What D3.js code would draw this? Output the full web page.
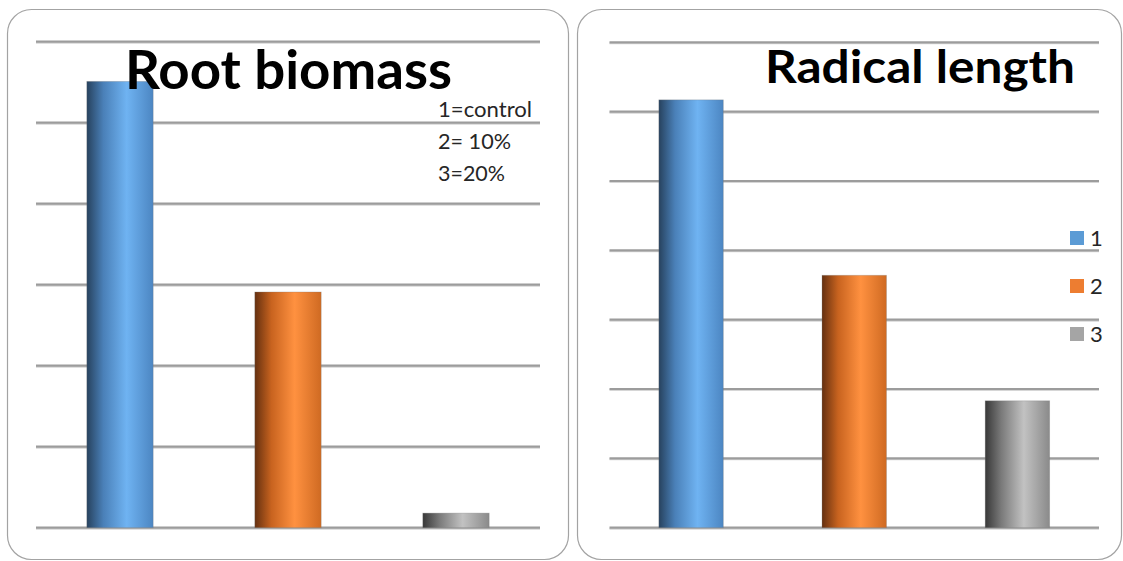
<!DOCTYPE html>
<html><head><meta charset="utf-8">
<script src="https://cdn.jsdelivr.net/npm/d3@7"></script>
<style>html,body{margin:0;padding:0;background:#fff;}svg{display:block;}</style>
</head><body>
<svg id="chart" width="1123" height="561"></svg>
<script>
// ---- data ----
const categories = ["1", "2", "3"];
const rootBiomass = [5.51, 2.91, 0.18];
const radicalLength = [6.17, 3.64, 1.83];
const rootTicks = [0, 1, 2, 3, 4, 5, 6];
const radicalTicks = [0, 1, 2, 3, 4, 5, 6, 7];
const rootNotes = ["1=control", "2= 10%", "3=20%"];
const legendLabels = ["1", "2", "3"];
const titles = ["Root biomass", "Radical length"];

const svg = d3.select("#chart");
const defs = svg.append("defs");
const grads = [
  {id: "gBlue", stops: [["0%", "#27425e"], ["25%", "#4a80b8"], ["60%", "#6fb3f2"], ["100%", "#4c86c2"]]},
  {id: "gOrange", stops: [["0%", "#653010"], ["25%", "#c8631f"], ["60%", "#ff9140"], ["100%", "#cf6a22"]]},
  {id: "gGray", stops: [["0%", "#383838"], ["25%", "#7a7a7a"], ["60%", "#c2c2c2"], ["100%", "#8a8a8a"]]}
];
grads.forEach(g => {
  const lg = defs.append("linearGradient").attr("id", g.id).attr("x1", "0").attr("x2", "1").attr("y1", "0").attr("y2", "0");
  g.stops.forEach(s => lg.append("stop").attr("offset", s[0]).attr("stop-color", s[1]));
});
const legendColors = ["#5b9bd5", "#ed7d31", "#a5a5a5"];
const fills = ["url(#gBlue)", "url(#gOrange)", "url(#gGray)"];

// panels
svg.append("rect").attr("x", 7.5).attr("y", 9.5).attr("width", 561).attr("height", 550)
  .attr("rx", 24).attr("fill", "#fff").attr("stroke", "#a3a3a3").attr("stroke-width", 1.2);
svg.append("rect").attr("x", 577.5).attr("y", 9.5).attr("width", 544).attr("height", 550)
  .attr("rx", 24).attr("fill", "#fff").attr("stroke", "#a3a3a3").attr("stroke-width", 1.2);

function panel(cfg) {
  const g = svg.append("g");
  const y = d3.scaleLinear().domain([0, d3.max(cfg.ticks)]).range([527.7, cfg.top]);
  const x = d3.scaleBand().domain(categories).range([cfg.x0, cfg.x1]).padding(0);
  const bw = x.step() * 0.395;
  g.selectAll("line.shadow").data(cfg.ticks).join("line")
    .attr("x1", cfg.x0).attr("x2", cfg.x1)
    .attr("y1", d => y(d) + 1).attr("y2", d => y(d) + 1)
    .attr("stroke", "#d6d6d6").attr("stroke-width", 2);
  g.selectAll("line.grid").data(cfg.ticks).join("line")
    .attr("x1", cfg.x0).attr("x2", cfg.x1)
    .attr("y1", d => y(d)).attr("y2", d => y(d))
    .attr("stroke", "#9c9c9c").attr("stroke-width", 2.2);
  g.selectAll("rect.bar").data(cfg.values).join("rect")
    .attr("x", (d, i) => x(categories[i]) + x.step() / 2 - bw / 2)
    .attr("width", bw)
    .attr("y", d => y(d))
    .attr("height", d => y(0) - y(d))
    .attr("fill", (d, i) => fills[i])
    .attr("stroke", "rgba(120,120,120,0.35)").attr("stroke-width", 0.8);
  g.append("text").attr("x", cfg.tx).attr("y", cfg.ty)
    .attr("font-family", "Lato, 'Open Sans', sans-serif").attr("font-weight", 700)
    .attr("font-size", cfg.tsize).attr("fill", "#000")
    .attr("textLength", cfg.tlen).attr("lengthAdjust", "spacingAndGlyphs")
    .text(cfg.title);
  return g;
}

panel({ticks: rootTicks, values: rootBiomass, top: 41.7, x0: 36, x1: 540,
  title: titles[0], tx: 125, ty: 89, tsize: 54, tlen: 327});
panel({ticks: radicalTicks, values: radicalLength, top: 42.3, x0: 609.5, x1: 1099,
  title: titles[1], tx: 765, ty: 83, tsize: 46, tlen: 310});

const noteLens = [94, 73, 67];
svg.append("g").selectAll("text").data(rootNotes).join("text")
  .attr("x", 438).attr("y", (d, i) => 117 + i * 32)
  .attr("font-family", "Lato, 'Open Sans', sans-serif").attr("font-size", 21.5)
  .attr("textLength", (d, i) => noteLens[i]).attr("lengthAdjust", "spacingAndGlyphs")
  .attr("fill", "#262626").text(d => d);

const leg = svg.append("g").selectAll("g").data(legendLabels).join("g")
  .attr("transform", (d, i) => `translate(1070,${231 + i * 48})`);
leg.append("rect").attr("width", 14).attr("height", 14).attr("fill", (d, i) => legendColors[i]);
leg.append("text").attr("x", 20).attr("y", 14.5)
  .attr("font-family", "Lato, 'Open Sans', sans-serif").attr("font-size", 22)
  .attr("fill", "#262626").text(d => d);
</script>
</body></html>
